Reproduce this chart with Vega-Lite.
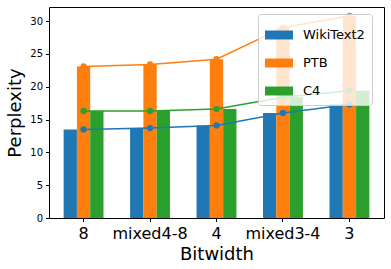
{
  "$schema": "https://vega.github.io/schema/vega-lite/v6.json",
  "autosize": {"type": "none"},
  "padding": {"left": 49, "top": 7, "right": 7, "bottom": 51},
  "width": 335,
  "height": 211,
  "config": {
    "font": "DejaVu Sans",
    "view": {"stroke": "#000", "strokeWidth": 1},
    "axis": {"domain": false, "grid": false, "tickColor": "#000", "tickSize": 3.5, "labelColor": "#000", "titleColor": "#000", "titleFontWeight": "normal"}
  },
  "data": {
    "values": [
      {"Bitwidth": "8", "Dataset": "WikiText2", "Perplexity": 13.5},
      {"Bitwidth": "mixed4-8", "Dataset": "WikiText2", "Perplexity": 13.7},
      {"Bitwidth": "4", "Dataset": "WikiText2", "Perplexity": 14.1},
      {"Bitwidth": "mixed3-4", "Dataset": "WikiText2", "Perplexity": 16.0},
      {"Bitwidth": "3", "Dataset": "WikiText2", "Perplexity": 17.3},
      {"Bitwidth": "8", "Dataset": "PTB", "Perplexity": 23.1},
      {"Bitwidth": "mixed4-8", "Dataset": "PTB", "Perplexity": 23.4},
      {"Bitwidth": "4", "Dataset": "PTB", "Perplexity": 24.2},
      {"Bitwidth": "mixed3-4", "Dataset": "PTB", "Perplexity": 29.0},
      {"Bitwidth": "3", "Dataset": "PTB", "Perplexity": 30.8},
      {"Bitwidth": "8", "Dataset": "C4", "Perplexity": 16.3},
      {"Bitwidth": "mixed4-8", "Dataset": "C4", "Perplexity": 16.3},
      {"Bitwidth": "4", "Dataset": "C4", "Perplexity": 16.6},
      {"Bitwidth": "mixed3-4", "Dataset": "C4", "Perplexity": 18.4},
      {"Bitwidth": "3", "Dataset": "C4", "Perplexity": 19.4}
    ]
  },
  "encoding": {
    "x": {
      "field": "Bitwidth", "type": "nominal",
      "sort": ["8", "mixed4-8", "4", "mixed3-4", "3"],
      "scale": {"paddingInner": 0.4, "paddingOuter": 0.22},
      "axis": {"labelAngle": 0, "labelFontSize": 16, "labelPadding": 3.5, "title": "Bitwidth", "titleFontSize": 18, "titlePadding": 4}
    },
    "y": {
      "field": "Perplexity", "type": "quantitative",
      "scale": {"domain": [0, 32.15], "nice": false, "zero": true},
      "axis": {"values": [0, 5, 10, 15, 20, 25, 30], "labelFontSize": 10, "labelPadding": 3, "title": "Perplexity", "titleFontSize": 18, "titlePadding": 5}
    },
    "color": {
      "field": "Dataset", "type": "nominal",
      "scale": {"domain": ["WikiText2", "PTB", "C4"], "range": ["#1f77b4", "#ff7f0e", "#2ca02c"]}
    }
  },
  "layer": [
    {
      "mark": {"type": "bar"},
      "encoding": {
        "xOffset": {"field": "Dataset", "type": "nominal", "sort": ["WikiText2", "PTB", "C4"]},
        "color": {
          "field": "Dataset", "type": "nominal",
          "scale": {"domain": ["WikiText2", "PTB", "C4"], "range": ["#1f77b4", "#ff7f0e", "#2ca02c"]},
          "legend": {
            "title": null, "orient": "none", "legendX": 209, "legendY": 7,
            "padding": 7, "fillColor": "rgba(255,255,255,0.8)", "strokeColor": "#cccccc", "cornerRadius": 3,
            "symbolType": "M-1,-0.32L1,-0.32L1,0.32L-1,0.32Z", "symbolSize": 784, "symbolStrokeWidth": 0, "symbolOpacity": 1,
            "labelFontSize": 13, "labelColor": "#000", "labelOffset": 10, "rowPadding": 7
          }
        }
      }
    },
    {
      "mark": {"type": "line", "strokeWidth": 1.5},
      "encoding": {"color": {"field": "Dataset", "type": "nominal", "legend": null}}
    },
    {
      "mark": {"type": "point", "filled": true, "size": 40, "opacity": 1},
      "encoding": {"color": {"field": "Dataset", "type": "nominal", "legend": null}}
    }
  ],
  "resolve": {"legend": {"color": "independent"}}
}
